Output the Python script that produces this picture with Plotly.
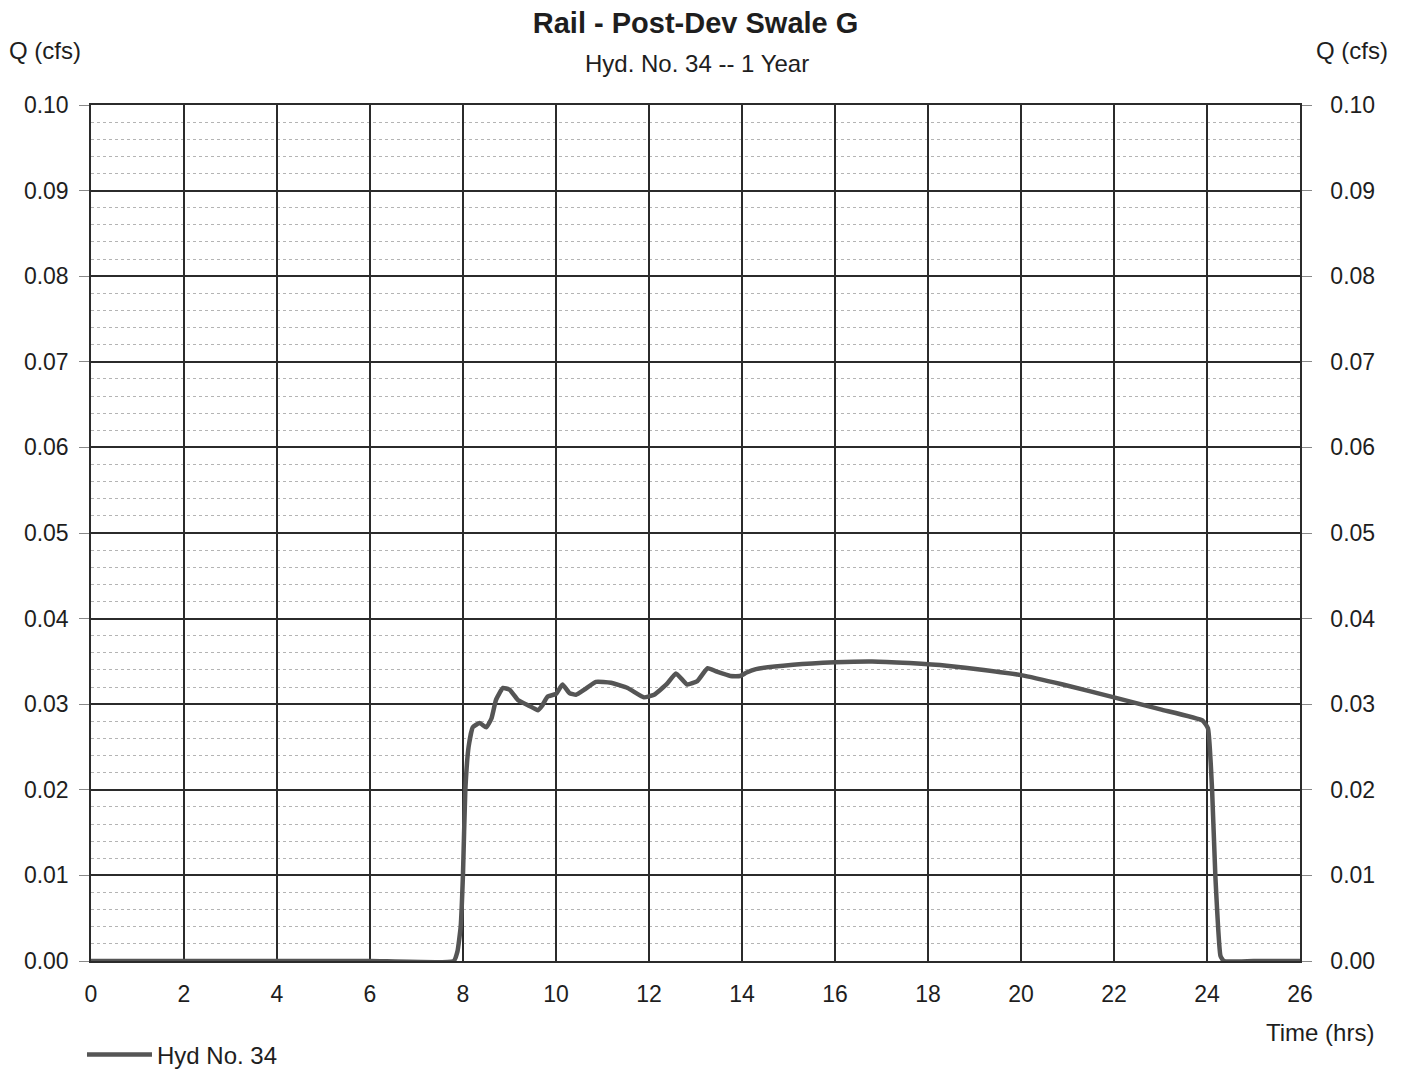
import plotly.graph_objects as go

# Hydrograph ordinates: time (hrs) vs discharge Q (cfs)
time_hrs = [0, 2, 4, 6, 7.8, 7.88, 7.95, 8.0, 8.05, 8.12, 8.21, 8.36, 8.5,
            8.61, 8.71, 8.86, 9.0, 9.18, 9.43, 9.61, 9.71, 9.82, 10.0,
            10.14, 10.29, 10.43, 10.61, 10.86, 11.18, 11.54, 11.89, 12.11, 12.39,
            12.58, 12.82, 13.04, 13.26, 13.46, 13.75, 13.96, 14.1, 14.3, 15.1,
            16.0, 16.8, 17.6, 18.4, 19.2, 20.0, 20.9, 22.0, 23.0, 23.9,
            24.02, 24.11, 24.18, 24.29, 24.36, 25, 26]
flow_cfs = [0, 0, 0, 0, 0, 0.0011, 0.0040, 0.0102, 0.0200, 0.0250, 0.0273, 0.0278, 0.0273,
            0.0283, 0.0305, 0.0319, 0.0317, 0.0305, 0.0298, 0.0293, 0.0299, 0.0309, 0.0312,
            0.0323, 0.0313, 0.0311, 0.0317, 0.0326, 0.0325, 0.0319, 0.0308, 0.0311, 0.0324,
            0.0336, 0.0323, 0.0327, 0.0342, 0.0338, 0.0333, 0.0333, 0.0337, 0.0341, 0.0346,
            0.0349, 0.0350, 0.0348, 0.0345, 0.0340, 0.0334, 0.0323, 0.0308, 0.0294, 0.0281,
            0.0272, 0.0199, 0.0099, 0.0006, 0, 0, 0]

title_text = "Rail - Post-Dev Swale G"
subtitle_text = "Hyd. No. 34 -- 1 Year"
series_name = "Hyd No. 34"
y_label = "Q (cfs)"
x_label = "Time (hrs)"

FONT = "Liberation Sans, Arial, sans-serif"
TEXT = "#1e1e1e"
MAJOR = "#2b2b2b"
MINOR = "#b4b4b4"

fig = go.Figure()
fig.add_trace(go.Scatter(
    x=time_hrs, y=flow_cfs, mode="lines", name=series_name,
    line=dict(color="#555555", width=4.5, shape="spline", smoothing=0.4),
))
# same series mapped to the right-hand axis so it is drawn with its own labels
fig.add_trace(go.Scatter(
    x=time_hrs, y=flow_cfs, mode="lines", yaxis="y2", showlegend=False,
    hoverinfo="skip", opacity=0, line=dict(width=0),
))

axis_common = dict(
    showline=True, linecolor=MAJOR, linewidth=1.5, mirror=True,
    zeroline=False,
    tickfont=dict(family=FONT, size=23, color=TEXT),
)

fig.update_layout(
    width=1421, height=1070,
    margin=dict(l=91, r=121, t=105, b=109, autoexpand=False),
    paper_bgcolor="white", plot_bgcolor="white",
    font=dict(family=FONT, color=TEXT),
    title=dict(text="<b>" + title_text + "</b>", x=0.4895, xanchor="center",
               y=0.979, yanchor="middle", font=dict(family=FONT, size=29, color=TEXT)),
    showlegend=True,
    legend=dict(xref="container", yref="container", x=0.0577, xanchor="left",
                y=0.014, yanchor="middle", orientation="h", itemwidth=65,
                font=dict(family=FONT, size=24, color=TEXT),
                bgcolor="rgba(0,0,0,0)"),
    xaxis=dict(range=[0, 26], dtick=2, tick0=0,
               showgrid=True, gridcolor=MAJOR, gridwidth=1.5,
               ticks="", ticklabelstandoff=12, **axis_common),
    yaxis=dict(range=[0, 0.1], dtick=0.01, tick0=0, tickformat=".2f",
               showgrid=True, gridcolor=MAJOR, gridwidth=1.5,
               ticks="outside", ticklen=10, tickcolor="#888888",
               ticklabelstandoff=6,
               minor=dict(dtick=0.002, showgrid=True, gridcolor=MINOR,
                          gridwidth=1, griddash="dot"),
               **axis_common),
    yaxis2=dict(range=[0, 0.1], dtick=0.01, tick0=0, tickformat=".2f",
                overlaying="y", side="right",
                showgrid=False, ticks="outside", ticklen=10, tickcolor="#888888",
                ticklabelstandoff=14,
                **axis_common),
)

annotations = [
    (subtitle_text, 0.501, 1.048, 24),
    (y_label, -0.038, 1.064, 24),
    (y_label, 1.043, 1.064, 24),
    (x_label, 1.0165, -0.0841, 24),
]
for text, ax, ay, size in annotations:
    fig.add_annotation(xref="paper", yref="paper", showarrow=False,
                       xanchor="center", yanchor="middle",
                       text=text, x=ax, y=ay,
                       font=dict(family=FONT, color=TEXT, size=size))

fig.write_html("out.html")
